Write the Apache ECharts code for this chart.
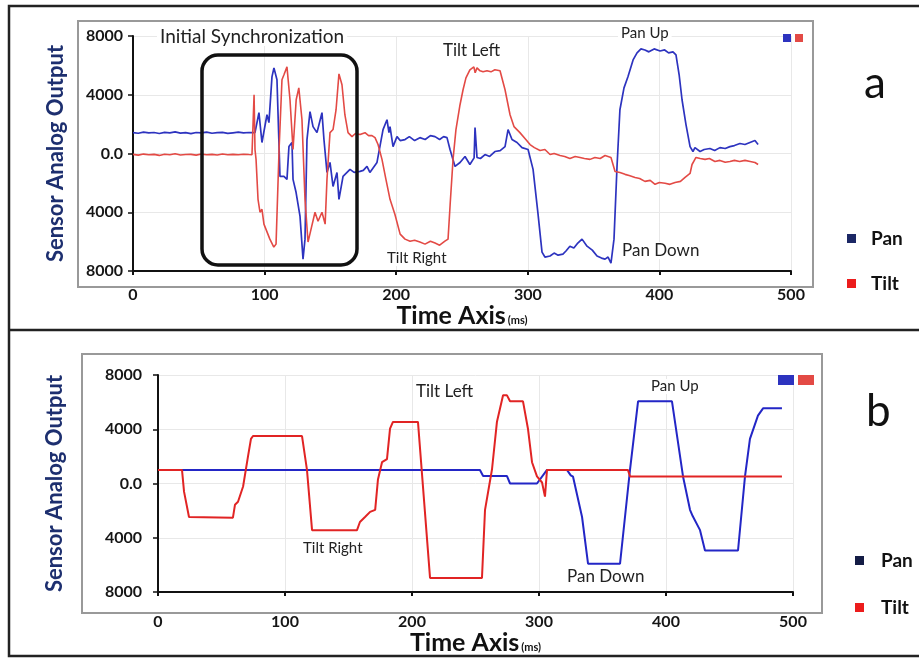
<!DOCTYPE html>
<html>
<head>
<meta charset="utf-8">
<script src="https://cdn.jsdelivr.net/npm/echarts@6/dist/echarts.min.js"></script>
<style>
  html, body { margin: 0; padding: 0; background: #fff; }
  #chart { width: 919px; height: 658px; }
</style>
</head>
<body>
<div id="chart"></div>
<script>
// tick labels
const xTicks = [0, 100, 200, 300, 400, 500]
const yTicks = [-8000, -4000, 0, 4000, 8000]

// panel a : recorded sensor output (time ms, value)
const panTimeA = [0, 4, 8, 12, 16, 20, 24, 28, 32, 36, 40, 44, 48, 52, 56, 60, 64, 68, 72, 76, 80, 84, 88, 91,
  92.7, 95.7, 98, 101.8, 103.3, 105.6, 107.1, 109.4, 111.7, 114.7, 117, 118.5, 120.8, 121.6, 123.9, 126.9, 129.2, 130.7,
  132.2, 134.5, 136.8, 139.8, 143.6, 145.1, 147.4, 149.7, 152, 155, 156.5, 159.6, 164.9, 168, 172.5, 175, 177.8, 180, 185.4,
  190, 193, 194.5, 195.3, 197.6, 200.6, 203, 206.7, 210, 214, 218, 222, 226, 229.5, 233, 236, 238.6,
  240.9, 244.7, 248.5, 252.3, 256, 259.2, 259.9, 261.4, 264, 267.5, 271, 275, 279, 282.7, 285, 288, 291.8, 295.6, 300.2,
  304, 307.8, 310.8, 313, 316.9, 320, 323, 326.7, 329, 332, 335, 338, 341.2, 345, 349, 352.6, 356, 358.7, 361, 363.2,
  365.5, 367.8, 370, 373.1, 376.1, 380, 383, 386, 389, 392, 396, 400.5, 404, 407, 410.3, 412.6, 415, 417.2, 420.2, 423.3,
  425.5, 427, 430.9, 434, 438.4, 442, 446, 450, 453.6, 457, 461.2, 465, 468.8, 472.6, 475]
const panValA = [1420, 1380, 1450, 1400, 1430, 1360, 1440, 1410, 1470, 1390, 1420, 1350, 1430, 1400, 1460, 1380, 1420, 1440, 1370, 1410, 1450, 1400, 1430, 1420,
  1420, 2780, 750, 2640, 2100, 5220, 5830, 5020, -1560, -1560, -1760, 470, 750, -1760, -2640, -4270, -7190, -5830,
  950, 2850, 1830, 1420, 2780, 950, -1290, -610, -2240, -1290, -3120, -1560, -1080, -1290, -1220, -1150, -880, -1290, -610,
  1630, 2300, 1420, 1830, 470, 1150, 880, 950, 1150, 880, 1080, 950, 1220, 1150, 950, 1150, 1080,
  270, -880, -610, -200, -750, -300, 1760, -270, -340, -70, -200, 135, 200, 470, 1630, 950, 750, 400, 270,
  -1080, -4140, -6710, -7050, -6980, -6780, -6920, -6850, -6640, -6310, -6440, -6100, -5830, -6310, -6580, -6980, -7120, -7190, -7050, -7460,
  -5830, -880, 2980, 4470, 5220, 6370, 6850, 7120, 7050, 6920, 7120, 6980, 7050, 6850, 6920, 6710, 5360, 3660, 1970, 470,
  135, 400, 135, 270, 340, 200, 400, 340, 470, 540, 680, 610, 750, 880, 610]

const tiltTimeA = [0, 4, 8, 12, 16, 20, 24, 28, 32, 36, 40, 44, 48, 52, 56, 60, 64, 68, 72, 76, 80, 84, 88, 90.4,
  92, 92.7, 93.5, 95, 96.5, 98, 99.5, 101, 104, 107, 108.7, 111, 113.2, 114.7, 117, 119.3, 121.6, 124, 126, 128.4,
  130.7, 133, 135.3, 138.3, 140.6, 143.6, 146, 147.4, 149.7, 152, 154.3, 156.5, 158.8, 161, 163.4, 166.4, 169, 172.5,
  176.3, 179, 181.6, 183.9, 186.2, 189.2, 192.2, 195.3, 199, 203, 206.7, 210.5, 214, 218, 221.9, 226, 229.5, 233, 237,
  239.4, 241, 243.2, 245.4, 248.5, 250.8, 253, 256, 259, 260, 261.4, 263.7, 266, 269, 272, 275, 278.9, 282.7, 286.5,
  289.5, 294, 298, 301.7, 305, 309.3, 313, 316.9, 320, 324.5, 328, 332, 336, 339.7, 343, 347.3, 351, 355, 358.7, 363.2,
  366.3, 370, 373.9, 377, 381.5, 385, 389, 393, 396.7, 400, 404.3, 408, 411.9, 416, 419.5, 423.3, 424.8, 427.8, 431,
  434.7, 438, 442.2, 446, 450, 453.6, 457, 461, 465, 469, 472.6, 475]
const tiltValA = [-60, -110, -40, -90, -60, -130, -50, -80, -20, -100, -70, -60, -110, -40, -80, -60, -100, -30, -80, -60, -90, -50, -70, -80,
  4000, 270, -400, -3120, -4000, -3800, -4810, -5150, -5830, -6370, -6170, 270, 5020, 5360, 5900, 3660, 270, 3660, 4470, 2300,
  -3120, -6030, -5150, -4000, -4610, -4000, -4810, -1760, 1420, 1630, 2980, 5420, 4680, 2640, 1420, 1150, 1360, 1290,
  1420, 1220, 1220, 1080, 610, -400, -1760, -3120, -4140, -5490, -5830, -5970, -5900, -6030, -6170, -5970, -6100, -6240, -5970,
  -5830, -3460, -400, 1630, 3320, 4340, 5150, 5700, 5900, 5500, 5830, 5630, 5560, 5630, 5560, 5700, 5630, 4340, 2640,
  1830, 1420, 1000, 610, 400, 200, 270, -70, 0, -140, -200, -340, -200, -270, -340, -400, -270, -340, -140, -270,
  -1220, -1290, -1420, -1500, -1630, -1700, -1900, -1830, -2100, -1970, -2030, -2100, -1970, -1900, -1630, -1360, -750, -270, -340,
  -400, -340, -540, -470, -600, -540, -470, -540, -470, -540, -610, -750]

// panel b : reconstructed output (time ms, value)
const panTimeB = [0, 253.5, 256, 274.8, 277.2, 298.4, 306.3, 319, 322, 325, 326.8, 333.9, 338.6, 363.8, 371.7, 378,
  404.7, 413.4, 418.9, 421, 426.8, 430.7, 456.7, 462.2, 466.1, 472.4, 476.4, 491.3]
const panValB = [1000, 1000, 550, 550, 0, 0, 1000, 1000, 1000, 600, 500, -2470, -5910, -5910, 1050, 6060,
  6060, 520, -1940, -2400, -3440, -4940, -4940, 520, 3290, 5010, 5540, 5540]

const tiltTimeB = [0, 18.9, 20.5, 24.4, 59, 60.6, 63, 67, 70.9, 73.2, 74.8, 113.4, 117.3, 121.3, 156.7, 159, 163, 167, 171,
  173.2, 176.4, 180.3, 182.7, 185, 204.7, 214.2, 255.1, 257.5, 263, 266.9, 271.7, 274.8, 277.2, 287.4, 291.3, 294.5,
  298.4, 302.4, 304.7, 306.3, 370, 371.7, 491.3]
const tiltValB = [1000, 1000, -600, -2470, -2520, -1570, -1350, -220, 2020, 3290, 3500, 3500, 1000, -3440, -3440, -2840, -2470, -2090, -1940,
  300, 1570, 1800, 4040, 4540, 4540, -6960, -6960, -1940, 1050, 4560, 6500, 6500, 6060, 6060, 4040, 1570,
  520, 75, -970, 1000, 1000, 520, 520]

const zip = (ts, vs) => ts.map((t, i) => [t, vs[i]])

const PAN_A = '#2d33bf'
const TILT_A = '#e34a45'
const PAN_B = '#2326c6'
const TILT_B = '#e12424'
const labelFont = { color: '#151515', fontWeight: 'bold', fontFamily: 'Lato', fontSize: 16 }

const makeX = (gridIndex, gap, labelMargin) => ({
  type: 'value', gridIndex, min: xTicks[0], max: xTicks[xTicks.length - 1], interval: 100,
  name: '{t|Time Axis}{m|(ms)}', nameLocation: 'middle', nameGap: gap,
  nameTextStyle: {
    rich: {
      t: { fontFamily: 'Lato', fontWeight: 'bold', fontSize: 25, color: '#111' },
      m: { fontFamily: 'Lato', fontWeight: 'bold', fontSize: 11, color: '#111', padding: [8, 0, 0, 2] }
    }
  },
  axisLine: { show: true, onZero: false, lineStyle: { color: '#111', width: 2 } },
  axisTick: { show: true, length: 4, lineStyle: { color: '#111', width: 2 } },
  axisLabel: { ...labelFont, margin: labelMargin },
  splitLine: { show: true, lineStyle: { color: '#e8e8e8', width: 1 } }
})

const makeY = (gridIndex, gap, labelMargin) => ({
  type: 'value', gridIndex, min: yTicks[0], max: yTicks[yTicks.length - 1], interval: 4000,
  name: 'Sensor Analog Output', nameLocation: 'middle', nameRotate: 90, nameGap: gap,
  nameTextStyle: { fontFamily: 'Lato', fontWeight: 'bold', fontSize: 22, color: '#1d2f6f' },
  axisLine: { show: true, lineStyle: { color: '#111', width: 2 } },
  axisTick: { show: true, length: 5, lineStyle: { color: '#111', width: 1.5 } },
  axisLabel: { ...labelFont, margin: labelMargin, formatter: v => v === 0 ? '0.0' : String(Math.abs(v)) },
  splitLine: { show: true, lineStyle: { color: '#e8e8e8', width: 1 } }
})

const note = (text, x, y, size) => ({
  type: 'text', left: x, top: y, z: 40,
  style: { text, fontFamily: 'Lato', fontSize: size, fill: '#222', backgroundColor: '#fff', padding: [0, 3] }
})

const chart = echarts.init(document.getElementById('chart'))
chart.setOption({
  animation: false,
  backgroundColor: '#fff',
  grid: [
    { left: 133, top: 36, width: 658, height: 235 },
    { left: 158, top: 375, width: 635, height: 217 }
  ],
  xAxis: [makeX(0, 28, 16), makeX(1, 33, 22)],
  yAxis: [makeY(0, 66, 10), makeY(1, 92, 16)],
  legend: [
    { left: 778, top: 29, itemWidth: 8, itemHeight: 8, itemGap: 4, icon: 'rect', formatter: () => '',
      selectedMode: false, data: ['Pan', 'Tilt'] },
    { left: 773, top: 370, itemWidth: 16, itemHeight: 10, itemGap: 4, icon: 'rect', formatter: () => '',
      selectedMode: false, data: ['Pan', 'Tilt'] },
    { left: 842, top: 224, orient: 'vertical', itemWidth: 9, itemHeight: 9, itemGap: 26, icon: 'rect',
      selectedMode: false,
      textStyle: { fontFamily: 'Lato', fontWeight: 'bold', fontSize: 19, color: '#111', padding: [0, 0, 0, 10] },
      data: [{ name: 'Pan', itemStyle: { color: '#1b2765' } }, { name: 'Tilt', itemStyle: { color: '#ec1c1c' } }] },
    { left: 850, top: 546, orient: 'vertical', itemWidth: 9, itemHeight: 9, itemGap: 28, icon: 'rect',
      selectedMode: false,
      textStyle: { fontFamily: 'Lato', fontWeight: 'bold', fontSize: 19, color: '#111', padding: [0, 0, 0, 12] },
      data: [{ name: 'Pan', itemStyle: { color: '#141c45' } }, { name: 'Tilt', itemStyle: { color: '#ec1c1c' } }] }
  ],
  series: [
    { name: 'Pan', type: 'line', xAxisIndex: 0, yAxisIndex: 0, data: zip(panTimeA, panValA), showSymbol: false,
      lineStyle: { color: PAN_A, width: 1.7 }, itemStyle: { color: PAN_A } },
    { name: 'Tilt', type: 'line', xAxisIndex: 0, yAxisIndex: 0, data: zip(tiltTimeA, tiltValA), showSymbol: false,
      lineStyle: { color: TILT_A, width: 1.6 }, itemStyle: { color: TILT_A } },
    { name: 'Pan', type: 'line', xAxisIndex: 1, yAxisIndex: 1, data: zip(panTimeB, panValB), showSymbol: false,
      lineStyle: { color: PAN_B, width: 2 }, itemStyle: { color: PAN_B } },
    { name: 'Tilt', type: 'line', xAxisIndex: 1, yAxisIndex: 1, data: zip(tiltTimeB, tiltValB), showSymbol: false,
      lineStyle: { color: TILT_B, width: 2 }, itemStyle: { color: TILT_B } }
  ],
  graphic: [
    // outer frame and divider
    { type: 'rect', shape: { x: 9, y: 6, width: 915, height: 650 }, style: { fill: 'none', stroke: '#222', lineWidth: 2.5 }, z: 0 },
    { type: 'line', shape: { x1: 9, y1: 330, x2: 919, y2: 330 }, style: { stroke: '#222', lineWidth: 2.5 }, z: 0 },
    // gray panels
    { type: 'rect', shape: { x: 78, y: 21, width: 735, height: 266 }, style: { fill: 'none', stroke: '#999', lineWidth: 2 }, z: 0 },
    { type: 'rect', shape: { x: 82, y: 354, width: 740, height: 259 }, style: { fill: 'none', stroke: '#999', lineWidth: 2 }, z: 0 },
    // synchronization box
    { type: 'rect', shape: { x: 202, y: 55, width: 155, height: 210, r: 16 }, style: { fill: 'none', stroke: '#111', lineWidth: 3.5 }, z: 50 },
    note('Initial Synchronization', 157, 27, 19),
    note('Tilt Left', 440, 42, 17),
    note('Pan Up', 618, 26, 15),
    note('Tilt Right', 384, 251, 15),
    note('Pan Down', 619, 242, 17),
    note('Tilt Left', 413, 383, 17),
    note('Pan Up', 648, 379, 15),
    note('Tilt Right', 300, 541, 15),
    note('Pan Down', 564, 568, 17),
    { type: 'text', left: 864, top: 62, style: { text: 'a', fontFamily: 'Lato', fontSize: 44, fill: '#111' } },
    { type: 'text', left: 866, top: 390, style: { text: 'b', fontFamily: 'Lato', fontSize: 44, fill: '#111' } }
  ]
})
</script>
</body>
</html>
